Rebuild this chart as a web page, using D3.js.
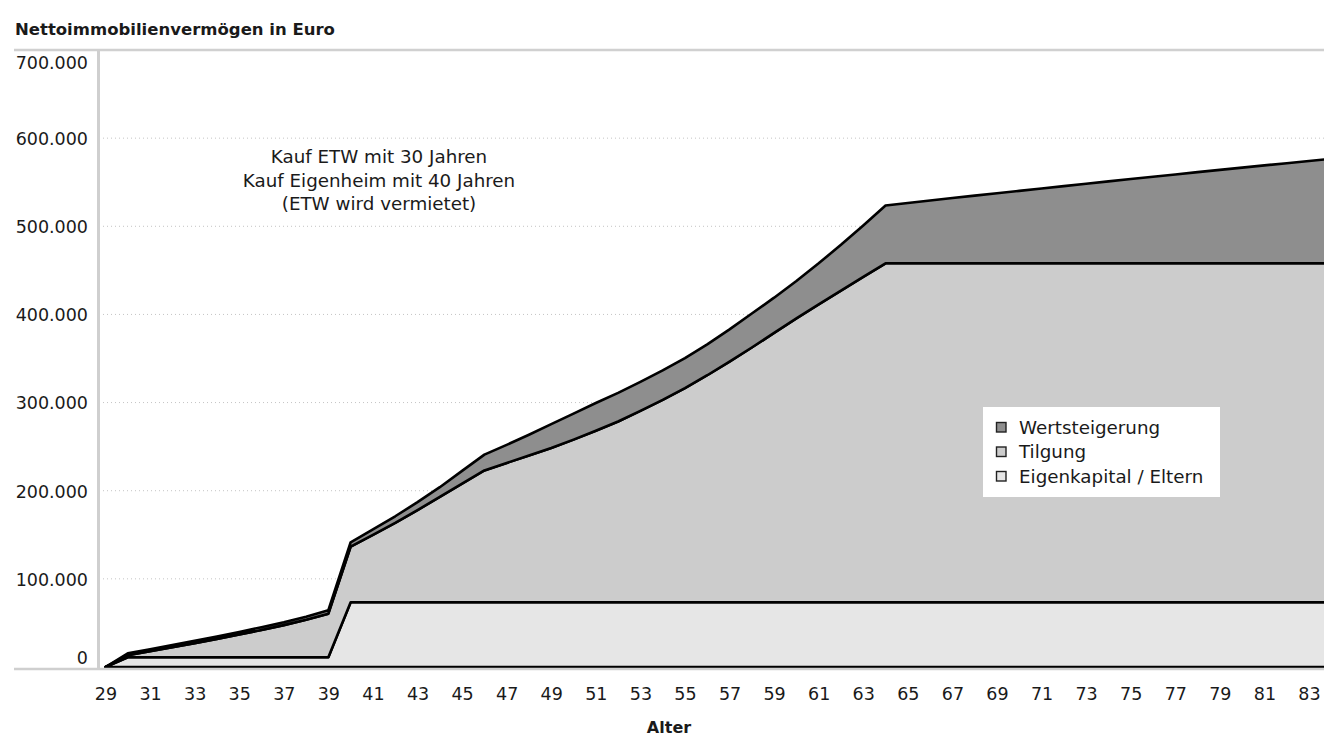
<!DOCTYPE html>
<html><head><meta charset="utf-8">
<script src="https://cdn.jsdelivr.net/npm/d3@7"></script>
<style>
body{margin:0;background:#fff}
svg{display:block}
text{font-family:"DejaVu Sans",sans-serif;fill:#1a1a1a}
</style>
</head><body>
<svg id="chart" width="1324" height="737"></svg>
<script>
// ---- data ----
const ages = [29,30,31,32,33,34,35,36,37,38,39,40,41,42,43,44,45,46,47,48,49,50,51,52,53,54,55,56,
  57,58,59,60,61,62,63,64,65,66,67,68,69,70,71,72,73,74,75,76,77,78,79,80,81,82,83,84];
const xTickLabels = [29,31,33,35,37,39,41,43,45,47,49,51,53,55,57,59,61,63,65,67,69,71,73,75,77,79,81,83];
const yTickValues = [0,100000,200000,300000,400000,500000,600000,700000];
const seriesNames = ["Wertsteigerung","Tilgung","Eigenkapital / Eltern"];
const eigenkapital = [0,
  11000,11000,11000,11000,11000,11000,11000,11000,11000,11000,
  73500,73500,73500,73500,73500,73500,73500,73500,73500,73500,
  73500,73500,73500,73500,73500,73500,73500,73500,73500,73500,
  73500,73500,73500,73500,73500,73500,73500,73500,73500,73500,
  73500,73500,73500,73500,73500,73500,73500,73500,73500,73500,
  73500,73500,73500,73500,73500];
const tilgung = [0,2500,6800,11300,16000,20800,25800,31000,36500,42500,49500,
  63000,76500,90000,104500,119500,134500,149500,
  158000,166500,175000,184500,194500,205000,217000,229500,243000,257500,273000,289000,305500,322000,338000,353500,369000,
  384500,384500,384500,384500,384500,384500,384500,384500,384500,384500,
  384500,384500,384500,384500,384500,384500,384500,384500,384500,384500,384500];
const wertsteigerung = [0,2000,2200,2500,2700,2900,3000,3200,3300,3500,4000,
  5000,6000,7500,9000,11000,14500,18000,
  20500,23500,27000,29500,31500,32500,33000,33500,34000,35000,36500,38500,40000,42500,46500,52000,58500,
  65500,68500,71300,74000,76800,79500,82200,84900,87600,90300,93000,95600,98200,100800,103400,106000,
  108600,111100,113600,116100,118600];
const annotationLines = ["Kauf ETW mit 30 Jahren","Kauf Eigenheim mit 40 Jahren","(ETW wird vermietet)"];
const fills = {eigen:"#e6e6e6", tilgung:"#cccccc", wert:"#8e8e8e"};

// ---- build ----
const table = ages.map((a,i)=>({age:a, eigen:eigenkapital[i], tilgung:tilgung[i], wert:wertsteigerung[i]}));
const svg = d3.select("#chart");
const x = d3.scaleLinear().domain([29,83]).range([105.5,1309]);
const y = d3.scaleLinear().domain([0,700000]).range([667,50]);
const fmt = v => d3.format(",")(v).replace(/,/g,".");
const FONT = "'DejaVu Sans',sans-serif";
const FS = 17.5;
const FS2 = 18.3;

// title
svg.append("text").attr("x",15).attr("y",35).attr("font-size",16.5).attr("font-weight","bold").text("Nettoimmobilienvermögen in Euro");

// gridlines
svg.append("g").selectAll("line").data(yTickValues.filter(v=>v>0 && v<700000)).join("line")
  .attr("x1",103).attr("x2",1324).attr("y1",d=>y(d)).attr("y2",d=>y(d))
  .attr("stroke","#c4c4c4").attr("stroke-width",1).attr("stroke-dasharray","1,3");

// top border
svg.append("line").attr("x1",14).attr("x2",1324).attr("y1",y(700000)).attr("y2",y(700000))
  .attr("stroke","#d0d0d0").attr("stroke-width",2.5);

// stacked areas
const stack = d3.stack().keys(["eigen","tilgung","wert"]);
const layers = stack(table);
const area = d3.area().x(d=>x(d.data.age)).y0(d=>y(d[0])).y1(d=>y(d[1]));
svg.append("g").selectAll("path").data(layers).join("path")
  .attr("d",area).attr("fill",d=>fills[d.key])
  .attr("stroke","#000").attr("stroke-width",2.6).attr("stroke-linejoin","round");

// axes lines
svg.append("line").attr("x1",98.5).attr("x2",98.5).attr("y1",y(700000)).attr("y2",669)
  .attr("stroke","#cfcfcf").attr("stroke-width",3);
svg.append("line").attr("x1",14).attr("x2",1324).attr("y1",669).attr("y2",669)
  .attr("stroke","#cfcfcf").attr("stroke-width",2.5);

// y axis labels
const yAxis = d3.axisLeft(y).tickValues(yTickValues).tickFormat(fmt).tickSize(0).tickPadding(0);
const yg = svg.append("g").attr("transform","translate(88,0)").call(yAxis);
yg.select(".domain").remove();
yg.selectAll("text").attr("font-size",FS).attr("font-family",FONT).attr("fill","#1a1a1a")
  .attr("dy",d=> d===700000 ? "1.05em" : (d===0 ? "-0.2em" : "0.36em"));

// x axis labels
const xAxis = d3.axisBottom(x).tickValues(xTickLabels).tickFormat(d=>d).tickSize(0).tickPadding(0);
const xg = svg.append("g").attr("transform","translate(0,688)").call(xAxis);
xg.select(".domain").remove();
xg.selectAll("text").attr("font-size",FS).attr("font-family",FONT).attr("fill","#1a1a1a");

// axis title
svg.append("text").attr("x",669).attr("y",733).attr("text-anchor","middle").attr("font-size",16)
  .attr("font-weight","bold").text("Alter");

// annotation (one text block, three lines)
const note = svg.append("text").attr("x",379).attr("y",163).attr("text-anchor","middle").attr("font-size",FS2);
note.selectAll("tspan").data(annotationLines).join("tspan")
  .attr("x",379).attr("dy",(d,i)=> i===0 ? 0 : 23.5).text(d=>d);

// legend
const lg = svg.append("g").attr("transform","translate(983,407)");
lg.append("rect").attr("width",237).attr("height",90).attr("fill","#fff");
const legendFills = [fills.wert, fills.tilgung, fills.eigen];
const items = lg.selectAll("g").data(seriesNames).join("g").attr("transform",(d,i)=>`translate(0,${i*24.5})`);
items.append("rect").attr("x",13.5).attr("y",15.5).attr("width",9.5).attr("height",9.5)
  .attr("fill",(d,i)=>legendFills[i]).attr("stroke","#222").attr("stroke-width",1.4);
items.append("text").attr("x",36).attr("y",26.5).attr("font-size",FS2).text(d=>d);
</script>
</body></html>
